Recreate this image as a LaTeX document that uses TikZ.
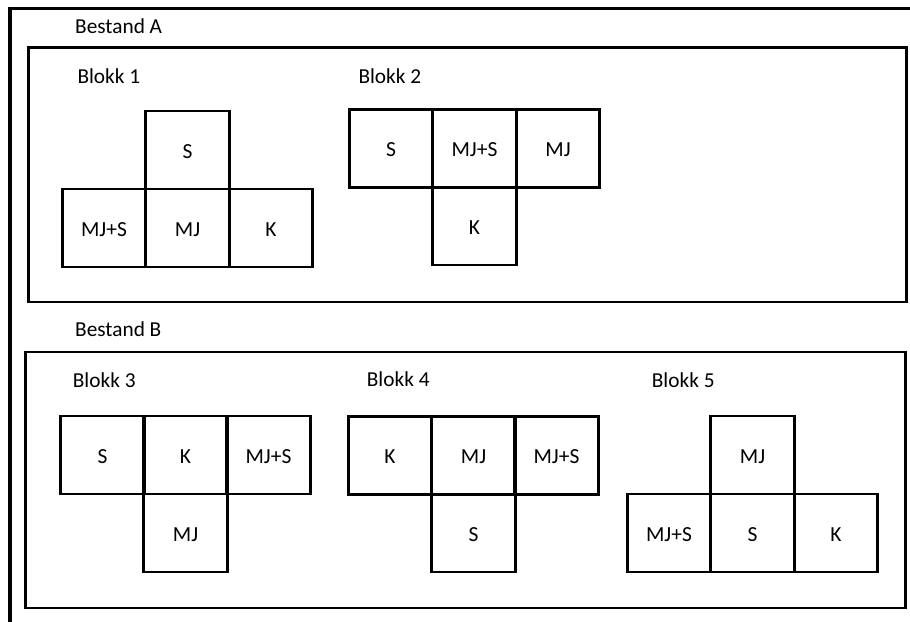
\documentclass[tikz,border=0pt]{standalone}
\usepackage{fontspec}
\setmainfont{Carlito}
\begin{document}
\begin{tikzpicture}[x=1pt,y=-1pt,
  frameline/.style={line width=3.5pt},
  standbox/.style={line width=2.6pt},
  cell/.style={draw,line width=2.7pt,minimum width=83.5pt,minimum height=78pt,
    inner sep=0pt,outer sep=0pt,text height=16pt,text depth=0pt,
    font=\fontsize{21.5}{25}\selectfont},
  lbl/.style={anchor=base west,inner sep=0pt,font=\fontsize{21.3}{25}\selectfont}]
\useasboundingbox (0,0) rectangle (910,621);
\fill[white] (0,0) rectangle (910,621);
% outer frame (left and top)
\coordinate (fbl) at (10,622);
\coordinate (ftl) at (10,8.5);
\coordinate (ftr) at (911,8.5);
\draw[frameline] (fbl) -- (ftl) -- (ftr);
% Bestand boxes
\draw[standbox] (28.3,47.3) rectangle (906.5,302);
\draw[standbox] (25.3,352) rectangle (905.3,608);
% labels
\node[lbl] (ba) at (75,33.3) {Bestand A};
\node[lbl] (bb) at (75,336) {Bestand B};
\node[lbl] (b1) at (77.3,83.3) {Blokk 1};
\node[lbl] (b2) at (358.3,83.3) {Blokk 2};
\node[lbl] (b3) at (72.7,387) {Blokk 3};
\node[lbl] (b4) at (366.7,386) {Blokk 4};
\node[lbl] (b5) at (651.7,387) {Blokk 5};
% Blokk 1
\node[cell] (c1s) at (187.5,150) {S};
\node[cell] (c1a) at (104,228) {MJ+S};
\node[cell] (c1b) at (187.5,228) {MJ};
\node[cell] (c1c) at (271,228) {K};
% Blokk 2
\node[cell] (c2a) at (391,148.5) {S};
\node[cell] (c2b) at (474.5,148.5) {MJ+S};
\node[cell] (c2c) at (558,148.5) {MJ};
\node[cell] (c2k) at (474.5,226) {K};
% Blokk 3
\node[cell] (c3a) at (102.5,455) {S};
\node[cell] (c3b) at (185.5,455) {K};
\node[cell] (c3c) at (268.5,455) {MJ+S};
\node[cell] (c3m) at (185.5,533) {MJ};
% Blokk 4
\node[cell] (c4a) at (390,455.5) {K};
\node[cell] (c4b) at (473.5,455.5) {MJ};
\node[cell] (c4c) at (556.5,455.5) {MJ+S};
\node[cell] (c4s) at (473.5,533) {S};
% Blokk 5
\node[cell] (c5m) at (752.5,455) {MJ};
\node[cell] (c5a) at (669,533) {MJ+S};
\node[cell] (c5b) at (752.5,533) {S};
\node[cell] (c5c) at (836,533) {K};
\end{tikzpicture}
\end{document}
